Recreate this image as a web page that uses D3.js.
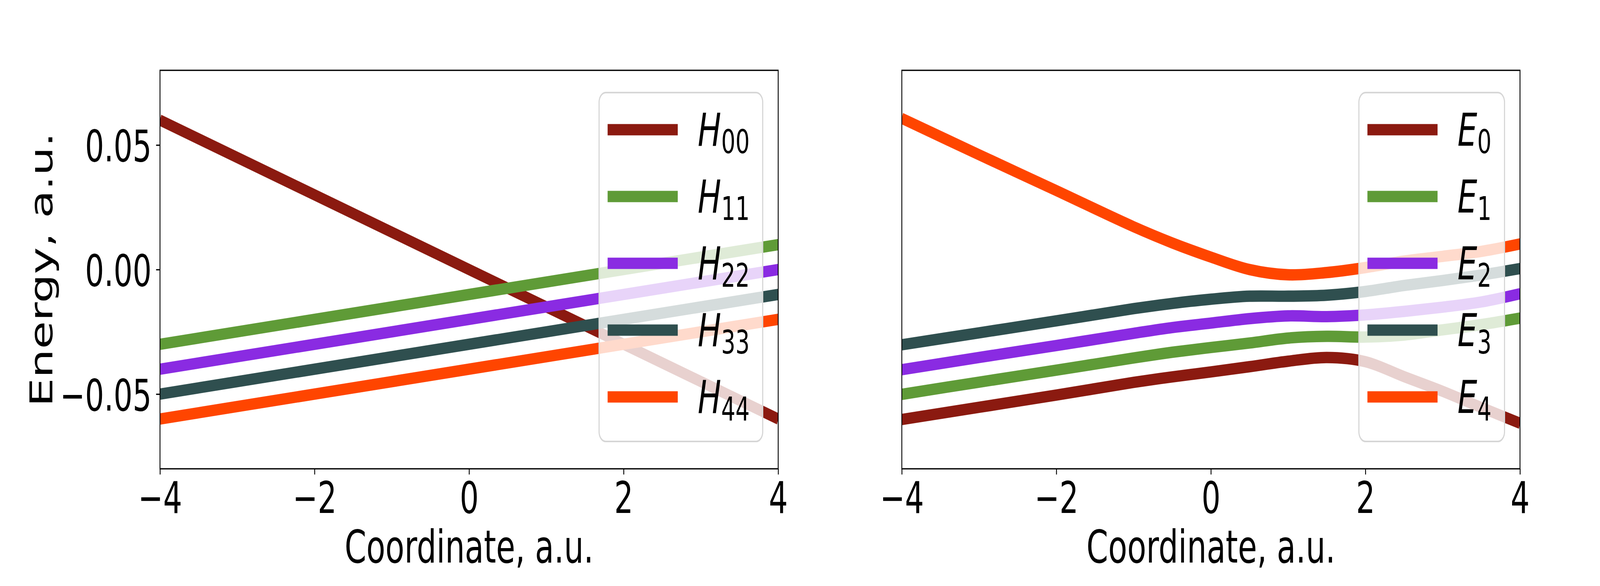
<!DOCTYPE html>
<html>
<head>
<meta charset="utf-8">
<script src="https://cdn.jsdelivr.net/npm/d3@7"></script>
<style>
html, body { margin: 0; padding: 0; background: white; overflow: hidden; }
#fig { display: block; width: 100vw; height: 100vh; }
text { font-family: "DejaVu Sans", sans-serif; }
</style>
</head>
<body>
<svg id="fig"></svg>
<script>
//diabatic lines (left panel)
var hX = [-4, 4];
var H00 = [0.06, -0.06];
var H11 = [-0.03, 0.01];
var H22 = [-0.04, 0.0];
var H33 = [-0.05, -0.01];
var H44 = [-0.06, -0.02];

//adiabatic curves (right panel)
var eX = [-4, -3, -2, -1, -0.5, 0, 0.5, 1, 1.5, 2, 2.5, 3, 3.5, 4];
var E0 = [-0.0602, -0.0553, -0.0504, -0.0453, -0.0431, -0.0411, -0.0390, -0.0368, -0.0353, -0.0370, -0.0430, -0.0489, -0.0554, -0.0617];
var E1 = [-0.0501, -0.0452, -0.0404, -0.0355, -0.0332, -0.0313, -0.0295, -0.0275, -0.0268, -0.0271, -0.0263, -0.0242, -0.0221, -0.0195];
var E2 = [-0.0402, -0.0353, -0.0305, -0.0256, -0.0233, -0.0215, -0.0197, -0.0186, -0.0189, -0.0182, -0.0168, -0.0151, -0.0130, -0.0097];
var E3 = [-0.0302, -0.0254, -0.0206, -0.0157, -0.0136, -0.0119, -0.0107, -0.0107, -0.0103, -0.0088, -0.0064, -0.0044, -0.0022, 0.0004];
var E4 = [0.0607, 0.0461, 0.0317, 0.0172, 0.0107, 0.0050, 0.0000, -0.0021, -0.0012, 0.0008, 0.0034, 0.0053, 0.0073, 0.0103];

var hNames = ["00", "11", "22", "33", "44"];
var eNames = ["0", "1", "2", "3", "4"];
var colors = ["#8b1a10", "#5f9b37", "#8a2be2", "#2f4f4f", "#ff4500"];

var xTicks = [-4, -2, 0, 2, 4];
var yTicks = [-0.05, 0, 0.05];
var xDomain = [-4, 4];
var yDomain = [-0.08, 0.08];

var width = 6000;
var height = 1500;
var top_ = 180, bottom_ = 1200;
var axW = 2318.2;
var panelLeft = [600, 3381.8];

//drawing is done in 6000x1500 units and stretched to whatever window we get
var svg = d3.select("#fig")
    .attr("viewBox", "0 0 " + width + " " + height)
    .attr("preserveAspectRatio", "none");

var yScale = d3.scaleLinear()
    .domain(yDomain)
    .range([bottom_, top_]);

//pair up x and y arrays into points
var toPoints = function(xs, ys)
{
    return xs.map(function(x, i){
        return {x: x, y: ys[i]};
    });
};

var makePanel = function(idx, xs, series, names, letter, showY)
{
    var left = panelLeft[idx];
    var xScale = d3.scaleLinear()
        .domain(xDomain)
        .range([left, left + axW]);

    var g = svg.append("g");

    g.append("clipPath")
        .attr("id", "clip" + idx)
        .append("rect")
        .attr("x", left)
        .attr("y", top_)
        .attr("width", axW)
        .attr("height", bottom_ - top_);

    var line = d3.line()
        .x(function(d){ return xScale(d.x); })
        .y(function(d){ return yScale(d.y); })
        .curve(d3.curveCatmullRom.alpha(0.5));

    //curves
    g.append("g")
        .attr("clip-path", "url(#clip" + idx + ")")
        .selectAll("path")
        .data(series)
        .enter()
        .append("path")
        .attr("d", function(s){ return line(toPoints(xs, s)); })
        .attr("fill", "none")
        .attr("stroke", function(s, i){ return colors[i]; })
        .attr("stroke-width", 29.2)
        .attr("stroke-linejoin", "round");

    //x axis
    var xAxis = d3.axisBottom(xScale)
        .tickValues(xTicks)
        .tickFormat(d3.format("d"))
        .tickSize(14.6)
        .tickPadding(19);
    var ax = g.append("g")
        .attr("transform", "translate(0," + bottom_ + ")")
        .call(xAxis);
    ax.select(".domain").remove();
    ax.selectAll("line").attr("stroke", "black").attr("stroke-width", 3.3);
    ax.selectAll("text")
        .attr("font-size", 112)
        .attr("fill", "black")
        .style("font-family", "DejaVu Sans");

    if (showY)
    {
        var yAxis = d3.axisLeft(yScale)
            .tickValues(yTicks)
            .tickFormat(d3.format(".2f"))
            .tickSize(14.6)
            .tickPadding(17);
        var ay = g.append("g")
            .attr("transform", "translate(" + left + ",0)")
            .call(yAxis);
        ay.select(".domain").remove();
        ay.selectAll("line").attr("stroke", "black").attr("stroke-width", 3.3);
        ay.selectAll("text")
            .attr("font-size", 112)
            .attr("fill", "black")
            .attr("dy", "0.37em")
            .style("font-family", "DejaVu Sans");

        g.append("text")
            .attr("transform", "translate(196," + ((top_ + bottom_) / 2) + ") rotate(-90)")
            .attr("text-anchor", "middle")
            .attr("font-size", 116.7)
            .text("Energy, a.u.");
    }

    //spines
    g.append("rect")
        .attr("x", left)
        .attr("y", top_)
        .attr("width", axW)
        .attr("height", bottom_ - top_)
        .attr("fill", "none")
        .attr("stroke", "black")
        .attr("stroke-width", 3.3);

    g.append("text")
        .attr("x", left + axW / 2)
        .attr("y", 1440)
        .attr("text-anchor", "middle")
        .attr("font-size", 116.7)
        .text("Coordinate, a.u.");

    makeLegend(g, left + axW, names, letter);
};

var makeLegend = function(g, axRight, names, letter)
{
    var lg = g.append("g");
    var box = lg.append("rect");
    var handleLen = 263;
    var padL = 32, gap = 75, padR = 49;

    var labels = lg.selectAll("text.lab")
        .data(names)
        .enter()
        .append("text")
        .attr("class", "lab")
        .attr("y", function(d, i){ return 332 + i * 171 + 41; })
        .attr("font-size", 116.7);
    labels.append("tspan")
        .attr("font-style", "italic")
        .text(letter);
    labels.append("tspan")
        .attr("font-size", 84)
        .attr("dy", 19)
        .text(function(d){ return d; });

    var textW = d3.max(labels.nodes(), function(n){ return n.getComputedTextLength(); });
    var boxRight = axRight - 58;
    var boxLeft = boxRight - (padL + handleLen + gap + textW + padR);

    box.attr("x", boxLeft)
        .attr("y", 237)
        .attr("width", boxRight - boxLeft)
        .attr("height", 893)
        .attr("rx", 25)
        .attr("fill", "white")
        .attr("fill-opacity", 0.8)
        .attr("stroke", "#d6d6d6")
        .attr("stroke-width", 4.2);

    lg.selectAll("line.handle")
        .data(names)
        .enter()
        .append("line")
        .attr("class", "handle")
        .attr("x1", boxLeft + padL)
        .attr("x2", boxLeft + padL + handleLen)
        .attr("y1", function(d, i){ return 332 + i * 171; })
        .attr("y2", function(d, i){ return 332 + i * 171; })
        .attr("stroke", function(d, i){ return colors[i]; })
        .attr("stroke-width", 29.2);

    labels.attr("x", boxLeft + padL + handleLen + gap);
    labels.raise();
};

makePanel(0, hX, [H00, H11, H22, H33, H44], hNames, "H", true);
makePanel(1, eX, [E0, E1, E2, E3, E4], eNames, "E", false);
</script>
</body>
</html>
